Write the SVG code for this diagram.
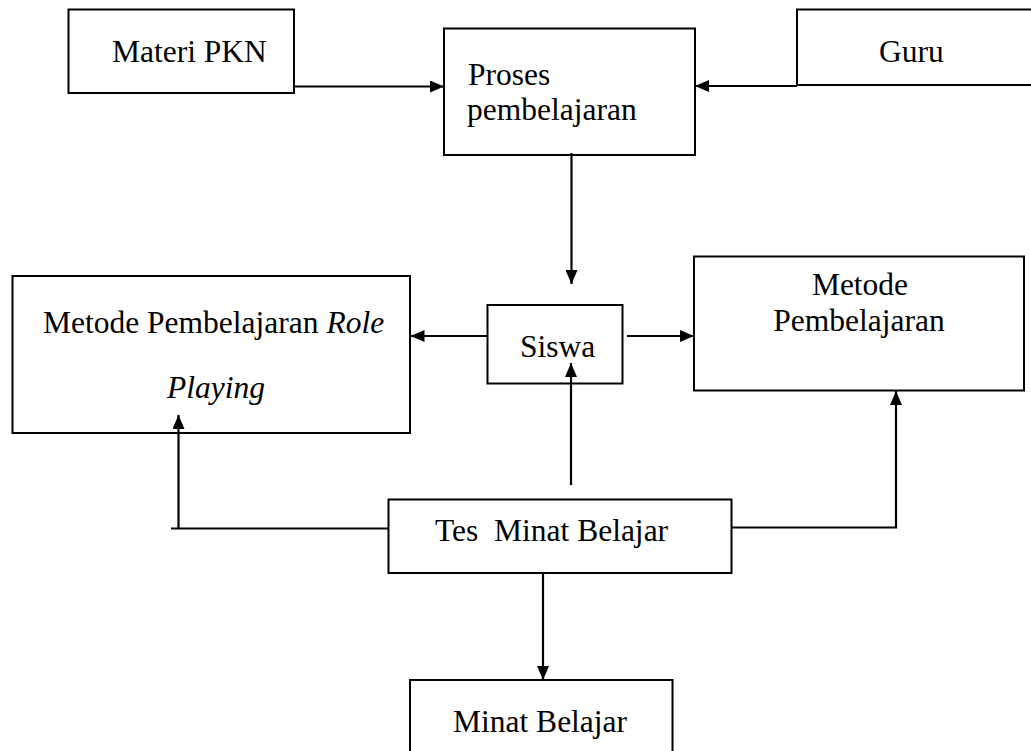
<svg xmlns="http://www.w3.org/2000/svg" width="1031" height="751" viewBox="0 0 1031 751">
  <style>
    .box { fill: #ffffff; stroke: #000000; stroke-width: 2; }
    .lbl { font-family: "Liberation Serif", "Times New Roman", serif; font-size: 31.5px; fill: #000000; }
    .it { font-style: italic; }
    .con { fill: none; stroke: #000000; stroke-width: 2.2; }
  </style>
  <defs>
    <marker id="arr" viewBox="0 0 14 12" refX="14" refY="6" markerWidth="14" markerHeight="12" markerUnits="userSpaceOnUse" orient="auto">
      <path d="M0,0 L14,6 L0,12 z" fill="#000000"/>
    </marker>
  </defs>
  <rect width="1031" height="751" fill="#ffffff"/>

  <g id="materi">
    <rect class="box" x="68.5" y="9.5" width="225.5" height="83.5"/>
    <text class="lbl" x="112" y="62">Materi PKN</text>
  </g>
  <g id="proses">
    <rect class="box" x="444" y="28.5" width="251" height="126.5"/>
    <text class="lbl" x="468" y="85">Proses</text>
    <text class="lbl" x="467" y="120">pembelajaran</text>
  </g>
  <g id="guru">
    <rect class="box" x="797" y="9.5" width="250" height="75.5"/>
    <text class="lbl" x="879" y="62">Guru</text>
  </g>
  <g id="role">
    <rect class="box" x="12.5" y="276" width="397.5" height="157"/>
    <text class="lbl" x="43" y="333">Metode Pembelajaran <tspan class="it">Role</tspan></text>
    <text class="lbl it" x="167" y="398">Playing</text>
  </g>
  <g id="siswa">
    <rect class="box" x="487.5" y="305" width="135" height="78.5"/>
    <text class="lbl" x="520" y="357">Siswa</text>
  </g>
  <g id="metode">
    <rect class="box" x="694" y="256.5" width="330" height="134"/>
    <text class="lbl" x="860" y="295" text-anchor="middle">Metode</text>
    <text class="lbl" x="859" y="331" text-anchor="middle">Pembelajaran</text>
  </g>
  <g id="tes">
    <rect class="box" x="388.5" y="499.5" width="343" height="73.5"/>
    <text class="lbl" x="435" y="541" xml:space="preserve">Tes  Minat Belajar</text>
  </g>
  <g id="minat">
    <rect class="box" x="410" y="680" width="262.5" height="90"/>
    <text class="lbl" x="453" y="732">Minat Belajar</text>
  </g>

  <g id="connectors">
    <path class="con" d="M294,86.5 L444,86.5" marker-end="url(#arr)"/>
    <path class="con" d="M797,86 L695,86" marker-end="url(#arr)"/>
    <path class="con" d="M571.5,153 L571.5,284" marker-end="url(#arr)"/>
    <path class="con" d="M487.5,336 L410.5,336" marker-end="url(#arr)"/>
    <path class="con" d="M627,336 L694,336" marker-end="url(#arr)"/>
    <path class="con" d="M571,485 L571,363" marker-end="url(#arr)"/>
    <path class="con" d="M389,528.5 L171,528.5"/>
    <path class="con" d="M178.5,528.5 L178.5,415" marker-end="url(#arr)"/>
    <path class="con" d="M731.5,527.5 L896,527.5 L896,391" marker-end="url(#arr)"/>
    <path class="con" d="M543,573 L543,680" marker-end="url(#arr)"/>
  </g>
</svg>
